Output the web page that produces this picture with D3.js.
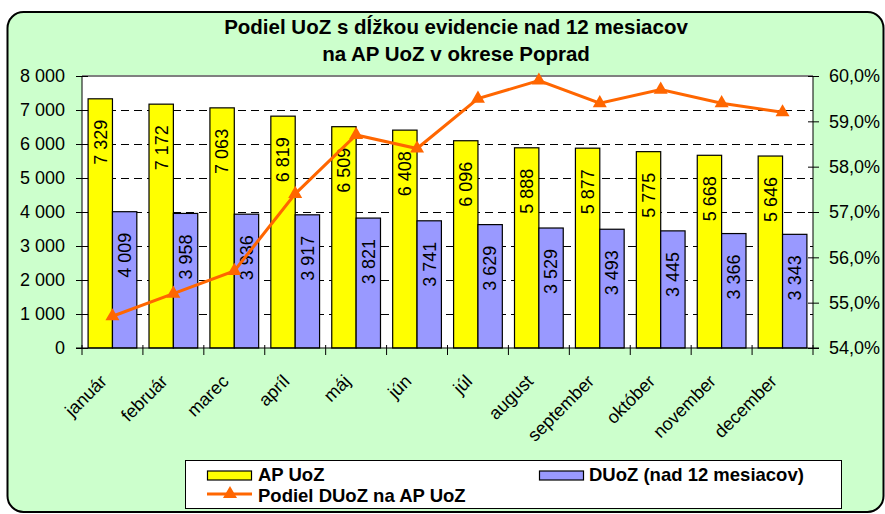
<!DOCTYPE html>
<html>
<head>
<meta charset="utf-8">
<script src="https://cdn.jsdelivr.net/npm/d3@7"></script>
<style>
  body { margin: 0; background: #fff; }
  svg text { font-family: "Liberation Sans", Arial, sans-serif; }
</style>
</head>
<body>
<svg id="chart"></svg>
<script>
var width = 885;
var height = 514;

// data
var months = ["január", "február", "marec", "apríl", "máj", "jún", "júl", "august", "september", "október", "november", "december"];
var apUoz = [7329, 7172, 7063, 6819, 6509, 6408, 6096, 5888, 5877, 5775, 5668, 5646];
var duoz = [4009, 3958, 3936, 3917, 3821, 3741, 3629, 3529, 3493, 3445, 3366, 3343];
var podiel = [54.7, 55.2, 55.7, 57.4, 58.7, 58.4, 59.5, 59.9, 59.4, 59.7, 59.4, 59.2];
var leftTicks = [0, 1000, 2000, 3000, 4000, 5000, 6000, 7000, 8000];
var rightTicks = [54, 55, 56, 57, 58, 59, 60];

var plot = { left: 82, right: 813, top: 76, bottom: 348 };

var svg = d3.select("#chart")
  .attr("width", width)
  .attr("height", height);

var locale = d3.formatLocale({ decimal: ",", thousands: " ", grouping: [3], currency: ["", ""] });
var fmtNum = locale.format(",d");
var fmtPct = locale.format(".1f");

// outer frame
svg.append("rect")
  .attr("x", 7.5).attr("y", 12)
  .attr("width", 876).attr("height", 500)
  .attr("rx", 16).attr("ry", 16)
  .attr("fill", "#ccffcc")
  .attr("stroke", "#000")
  .attr("stroke-width", 2);

// title
var title = svg.append("text")
  .attr("text-anchor", "middle")
  .attr("font-weight", "bold")
  .attr("font-size", 20.5);
title.append("tspan").attr("x", 456).attr("y", 34).text("Podiel UoZ s dĺžkou evidencie nad 12 mesiacov");
title.append("tspan").attr("x", 456).attr("y", 61).text("na AP UoZ v okrese Poprad");

var x = d3.scaleBand()
  .domain(months)
  .range([plot.left, plot.right])
  .paddingInner(0)
  .paddingOuter(0);

var y = d3.scaleLinear().domain([0, 8000]).range([plot.bottom, plot.top]);
var y2 = d3.scaleLinear().domain([54, 60]).range([plot.bottom, plot.top]);

var bw = x.bandwidth();
var barW = bw * 0.4;

// plot area
svg.append("rect")
  .attr("x", plot.left).attr("y", plot.top)
  .attr("width", plot.right - plot.left)
  .attr("height", plot.bottom - plot.top)
  .attr("fill", "#fff");

// gridlines
svg.append("g").selectAll("line")
  .data(leftTicks.filter(function (d) { return d > 0 && d < 8000; }))
  .enter().append("line")
  .attr("x1", plot.left).attr("x2", plot.right)
  .attr("y1", function (d) { return Math.round(y(d)) + 0.5; })
  .attr("y2", function (d) { return Math.round(y(d)) + 0.5; })
  .attr("stroke", "#000")
  .attr("stroke-width", 1)
  .attr("stroke-dasharray", "8,5");

svg.append("line")
  .attr("x1", plot.left).attr("x2", plot.right)
  .attr("y1", plot.top).attr("y2", plot.top)
  .attr("stroke", "#808080")
  .attr("stroke-width", 2);

// bars
var groups = svg.append("g").selectAll("g")
  .data(months)
  .enter().append("g");

groups.append("rect")
  .attr("x", function (d) { return x(d) + bw * 0.1; })
  .attr("y", function (d, i) { return y(apUoz[i]); })
  .attr("width", barW)
  .attr("height", function (d, i) { return y(0) - y(apUoz[i]); })
  .attr("fill", "#ffff00")
  .attr("stroke", "#000")
  .attr("stroke-width", 1.2);

groups.append("rect")
  .attr("x", function (d) { return x(d) + bw * 0.5; })
  .attr("y", function (d, i) { return y(duoz[i]); })
  .attr("width", barW)
  .attr("height", function (d, i) { return y(0) - y(duoz[i]); })
  .attr("fill", "#9999ff")
  .attr("stroke", "#000")
  .attr("stroke-width", 1.2);

// bar labels
groups.append("text")
  .attr("transform", function (d, i) {
    return "translate(" + (x(d) + bw * 0.3) + "," + (y(apUoz[i]) + 21) + ") rotate(-90)";
  })
  .attr("text-anchor", "end")
  .attr("dy", "0.35em")
  .attr("font-size", 18)
  .text(function (d, i) { return fmtNum(apUoz[i]); });

groups.append("text")
  .attr("transform", function (d, i) {
    return "translate(" + (x(d) + bw * 0.7) + "," + (y(duoz[i]) + 21) + ") rotate(-90)";
  })
  .attr("text-anchor", "end")
  .attr("dy", "0.35em")
  .attr("font-size", 18)
  .text(function (d, i) { return fmtNum(duoz[i]); });

// axes lines
svg.append("line")
  .attr("x1", plot.left).attr("x2", plot.left)
  .attr("y1", plot.top).attr("y2", plot.bottom)
  .attr("stroke", "#000");
svg.append("line")
  .attr("x1", plot.right).attr("x2", plot.right)
  .attr("y1", plot.top).attr("y2", plot.bottom)
  .attr("stroke", "#000");
svg.append("line")
  .attr("x1", plot.left - 6).attr("x2", plot.right + 6)
  .attr("y1", plot.bottom).attr("y2", plot.bottom)
  .attr("stroke", "#000");

// left axis
var yAxis = d3.axisLeft(y)
  .tickValues(leftTicks)
  .tickSize(6)
  .tickPadding(11)
  .tickFormat(fmtNum);
var gy = svg.append("g")
  .attr("transform", "translate(" + plot.left + ",0)")
  .call(yAxis);
gy.select(".domain").remove();
gy.selectAll(".tick line").attr("x2", -6).attr("x1", 6);
gy.selectAll(".tick text")
  .attr("font-size", 18)
  .attr("fill", "#000")
  .style("font-family", "'Liberation Sans', Arial, sans-serif");

// right axis
var yAxis2 = d3.axisRight(y2)
  .tickValues(rightTicks)
  .tickSize(6)
  .tickPadding(10)
  .tickFormat(function (d) { return fmtPct(d) + "%"; });
var gy2 = svg.append("g")
  .attr("transform", "translate(" + plot.right + ",0)")
  .call(yAxis2);
gy2.select(".domain").remove();
gy2.selectAll(".tick line").attr("x1", -5).attr("x2", 6);
gy2.selectAll(".tick text")
  .attr("font-size", 18)
  .attr("fill", "#000")
  .style("font-family", "'Liberation Sans', Arial, sans-serif");

// category ticks
svg.append("g").selectAll("line")
  .data(months.concat(["end"]))
  .enter().append("line")
  .attr("x1", function (d, i) { return plot.left + i * bw; })
  .attr("x2", function (d, i) { return plot.left + i * bw; })
  .attr("y1", plot.bottom - 3)
  .attr("y2", plot.bottom + 7)
  .attr("stroke", "#000");

// month labels
svg.append("g").selectAll("text")
  .data(months)
  .enter().append("text")
  .attr("transform", function (d) {
    return "translate(" + (x(d) + bw / 2 - 9) + "," + 378 + ") rotate(-45)";
  })
  .attr("text-anchor", "end")
  .attr("dy", "0.35em")
  .attr("font-size", 18)
  .text(function (d) { return d; });

// line series
var line = d3.line()
  .x(function (d, i) { return x(months[i]) + bw / 2; })
  .y(function (d) { return y2(d); });

svg.append("path")
  .datum(podiel)
  .attr("d", line)
  .attr("fill", "none")
  .attr("stroke", "#ff6600")
  .attr("stroke-width", 3);

var tri = d3.symbol().type(d3.symbolTriangle).size(85);
svg.append("g").selectAll("path")
  .data(podiel)
  .enter().append("path")
  .attr("transform", function (d, i) {
    return "translate(" + (x(months[i]) + bw / 2) + "," + y2(d) + ")";
  })
  .attr("d", tri)
  .attr("fill", "#ff6600");

// legend
var lg = svg.append("g");
lg.append("rect")
  .attr("x", 185.5).attr("y", 460.5)
  .attr("width", 656).attr("height", 48)
  .attr("fill", "#fff")
  .attr("stroke", "#000");

lg.append("rect")
  .attr("x", 207.5).attr("y", 471)
  .attr("width", 44).attr("height", 9)
  .attr("fill", "#ffff00").attr("stroke", "#000").attr("stroke-width", 1.2);
lg.append("text")
  .attr("x", 258).attr("y", 481)
  .attr("font-size", 18.5).attr("font-weight", "bold")
  .text("AP UoZ");

lg.append("rect")
  .attr("x", 539.5).attr("y", 471)
  .attr("width", 44).attr("height", 9)
  .attr("fill", "#9999ff").attr("stroke", "#000").attr("stroke-width", 1.2);
lg.append("text")
  .attr("x", 589).attr("y", 481)
  .attr("font-size", 18.5).attr("font-weight", "bold")
  .text("DUoZ (nad 12 mesiacov)");

lg.append("line")
  .attr("x1", 207).attr("x2", 252)
  .attr("y1", 494).attr("y2", 494)
  .attr("stroke", "#ff6600").attr("stroke-width", 3);
lg.append("path")
  .attr("transform", "translate(230,494)")
  .attr("d", tri)
  .attr("fill", "#ff6600");
lg.append("text")
  .attr("x", 258).attr("y", 502)
  .attr("font-size", 18.5).attr("font-weight", "bold")
  .text("Podiel DUoZ na AP UoZ");
</script>
</body>
</html>
